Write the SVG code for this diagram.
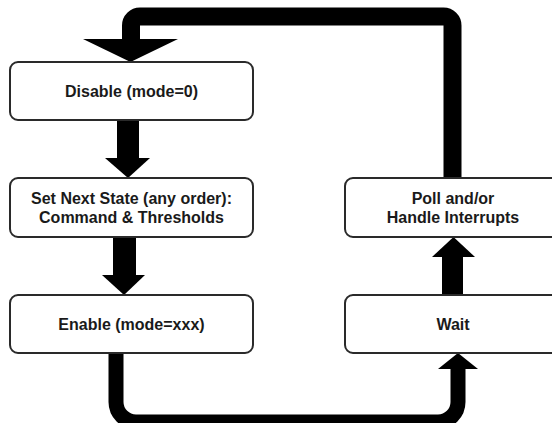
<svg xmlns="http://www.w3.org/2000/svg" width="552" height="423" viewBox="0 0 552 423">
  <style>
    .box { fill: #ffffff; stroke: #2a2a2a; stroke-width: 2; }
    .lbl { font-family: "Liberation Sans", Arial, sans-serif; font-weight: bold; font-size: 16px; fill: #1a1a1a; text-anchor: middle; }
    .wire { fill: none; stroke: #000000; }
    .head { fill: #000000; }
  </style>
  <rect width="552" height="423" fill="#ffffff"/>
  <g id="connectors">
    <!-- Poll -> Disable (top loop) -->
    <path class="wire" stroke-width="18" d="M452.5,178 V25.5 A9,9 0 0 0 443.5,16.5 H140 A9,9 0 0 0 131,25.5 V40"/>
    <polygon class="head" points="83,39 178,39 130.5,62"/>
    <!-- Disable -> Set Next State -->
    <rect class="head" x="117" y="120" width="22" height="39"/>
    <polygon class="head" points="105,158 150,158 128,178"/>
    <!-- Set Next State -> Enable -->
    <rect class="head" x="113" y="237" width="23" height="39"/>
    <polygon class="head" points="102,275 145,275 124,295"/>
    <!-- Enable -> Wait (bottom loop) -->
    <path class="wire" stroke-width="15" d="M116,353 V402 A20,20 0 0 0 136,422 H438 A20,20 0 0 0 458,402 V368"/>
    <polygon class="head" points="438,369 478,369 458,353"/>
    <!-- Wait -> Poll -->
    <rect class="head" x="442" y="256" width="21" height="39"/>
    <polygon class="head" points="432,257 475,257 453.5,237"/>
  </g>
  <g id="disable">
    <rect class="box" x="10" y="62" width="243" height="58" rx="8"/>
    <text class="lbl" x="131.5" y="97">Disable (mode=0)</text>
  </g>
  <g id="set-next-state">
    <rect class="box" x="10" y="178" width="243" height="59" rx="8"/>
    <text class="lbl" x="131.5" y="203.5">Set Next State (any order):</text>
    <text class="lbl" x="131.5" y="222.5">Command &amp; Thresholds</text>
  </g>
  <g id="enable">
    <rect class="box" x="10" y="295" width="243" height="58" rx="8"/>
    <text class="lbl" x="131.5" y="330">Enable (mode=xxx)</text>
  </g>
  <g id="poll">
    <rect class="box" x="345" y="178" width="216" height="59" rx="8"/>
    <text class="lbl" x="453" y="203.5">Poll and/or</text>
    <text class="lbl" x="453" y="222.5">Handle Interrupts</text>
  </g>
  <g id="wait">
    <rect class="box" x="345" y="295" width="216" height="58" rx="8"/>
    <text class="lbl" x="453" y="330">Wait</text>
  </g>
</svg>
